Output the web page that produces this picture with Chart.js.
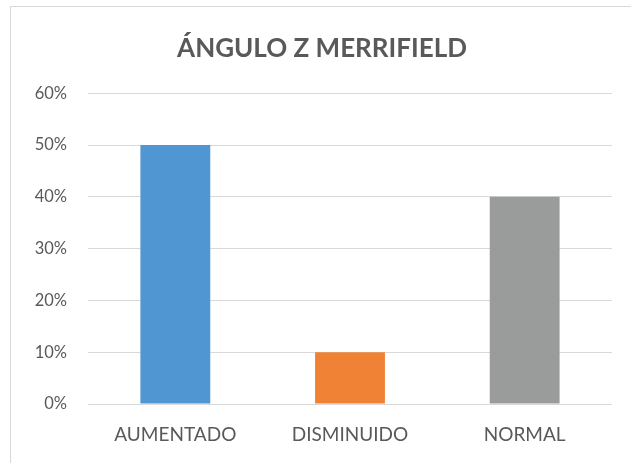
<!DOCTYPE html>
<html>
<head>
<meta charset="utf-8">
<script src="https://cdn.jsdelivr.net/npm/chart.js@4"></script>
<style>
  html, body { margin: 0; padding: 0; background: #fff; }
  #wrap { position: relative; width: 631px; height: 463px; overflow: hidden; }
  #frame { position: absolute; left: 10px; top: 6px; width: 640px; height: 480px; border: 1px solid #d9d9d9; box-sizing: border-box; }
  canvas { position: absolute; left: 0; top: 0; }
</style>
</head>
<body>
<div id="wrap">
  <div id="frame"></div>
  <canvas id="c" width="631" height="463"></canvas>
</div>
<script>
const title = "ÁNGULO Z MERRIFIELD";
const categories = ["AUMENTADO", "DISMINUIDO", "NORMAL"];
const values = [50, 10, 40];
const barColors = ["#4f96d3", "#f08236", "#9a9c9c"];
const yTicks = [0, 10, 20, 30, 40, 50, 60];

const textColor = "#595959";
const fontFamily = "Lato, 'Open Sans', 'Liberation Sans', sans-serif";

new Chart(document.getElementById("c"), {
  type: "bar",
  data: {
    labels: categories,
    datasets: [{
      data: values,
      backgroundColor: barColors,
      borderWidth: 0,
      categoryPercentage: 1,
      barPercentage: 0.4
    }]
  },
  options: {
    responsive: false,
    animation: false,
    events: [],
    layout: { padding: { left: 13, right: 0, top: 0, bottom: 0 } },
    plugins: {
      legend: { display: false },
      tooltip: { enabled: false },
      title: {
        display: true,
        text: title,
        color: textColor,
        font: { family: fontFamily, size: 26, weight: "bold", lineHeight: 1.2 },
        padding: { top: 33, bottom: 29 }
      }
    },
    scales: {
      x: {
        grid: { display: false, drawTicks: false },
        border: { display: false },
        afterFit: (scale) => { scale.height = 59; },
        ticks: {
          color: textColor,
          font: { family: fontFamily, size: 19 },
          padding: 19
        }
      },
      y: {
        min: 0,
        max: 60,
        afterBuildTicks: (scale) => { scale.ticks = yTicks.map(v => ({ value: v })); },
        afterFit: (scale) => { scale.width = 75; },
        grid: { color: "#d9d9d9", lineWidth: 1, drawTicks: false },
        border: { display: false },
        ticks: {
          color: textColor,
          font: { family: fontFamily, size: 16.5 },
          padding: 21,
          callback: (v) => v + "%"
        }
      },
      yRight: {
        position: "right",
        display: true,
        afterFit: (scale) => { scale.width = 19; },
        grid: { display: false, drawTicks: false },
        border: { display: false },
        ticks: { display: false }
      }
    }
  }
});
</script>
</body>
</html>
